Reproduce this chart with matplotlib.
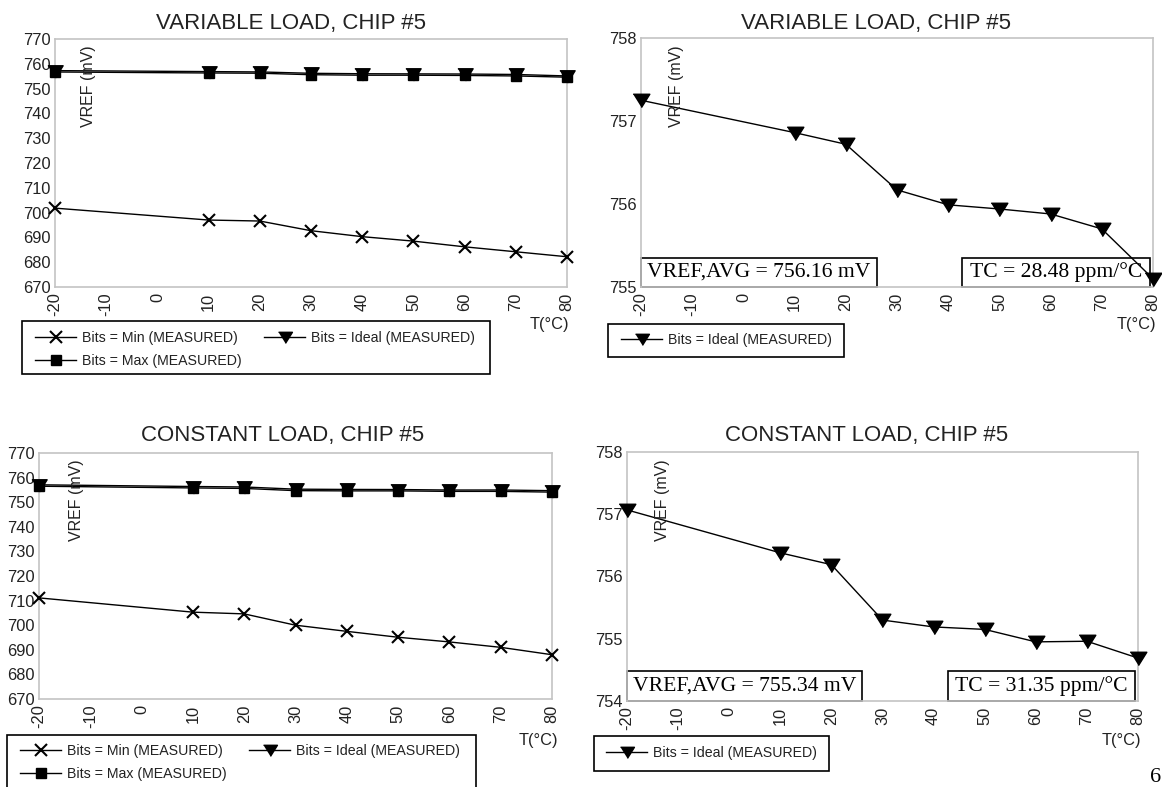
import matplotlib
matplotlib.use("Agg")
import matplotlib.pyplot as plt
from matplotlib.patches import Rectangle
from matplotlib.lines import Line2D

# Measurement temperatures and axis ticks
temps = [-20, 10, 20, 30, 40, 50, 60, 70, 80]
x_ticks = list(range(-20, 81, 10))

# VREF (mV) under variable load, chip #5
var_min = [701.8, 697.0, 696.6, 692.7, 690.3, 688.5, 686.2, 684.2, 682.2]
var_ideal = [757.25, 756.86, 756.72, 756.17, 755.99, 755.94, 755.88, 755.70, 755.10]
var_max = [756.7, 756.3, 756.2, 755.6, 755.4, 755.4, 755.3, 755.1, 754.6]

# VREF (mV) under constant load, chip #5
const_min = [711.1, 705.3, 704.6, 700.0, 697.5, 695.1, 693.2, 691.0, 688.0]
const_ideal = [757.07, 756.38, 756.19, 755.30, 755.19, 755.15, 754.95, 754.96, 754.69]
const_max = [756.5, 755.8, 755.6, 754.7, 754.6, 754.6, 754.4, 754.4, 754.1]

var_avg_text = "VREF,AVG = 756.16 mV"
var_tc_text = "TC = 28.48 ppm/°C"
const_avg_text = "VREF,AVG = 755.34 mV"
const_tc_text = "TC = 31.35 ppm/°C"

wide_ticks = [670, 680, 690, 700, 710, 720, 730, 740, 750, 760, 770]
var_zoom_ticks = [755, 756, 757, 758]
const_zoom_ticks = [754, 755, 756, 757, 758]

W, H, DPI = 1162, 787, 100
SANS = "Liberation Sans"
SERIF = "Liberation Serif"
TXT = "#222222"
SPINE = "#c4c4c4"
LEG_FS = 10.2

plt.rcParams["font.family"] = SANS

fig = plt.figure(figsize=(W / DPI, H / DPI), dpi=DPI)
fig.patch.set_facecolor("white")

TRI = [(-1.0, 0.75), (1.0, 0.75), (0.0, -0.85)]

lbl_min = "Bits = Min (MEASURED)"
lbl_ideal = "Bits = Ideal (MEASURED)"
lbl_max = "Bits = Max (MEASURED)"


def fx(px):
    return px / W


def fy(py):
    return 1 - py / H


def make_axes(l, t, r, b):
    ax = fig.add_axes([fx(l), fy(b), (r - l) / W, (b - t) / H])
    ax.set_xlim(-20, 80)
    ax.set_xticks(x_ticks)
    ax.set_xticklabels([str(v) for v in x_ticks], rotation=90)
    ax.tick_params(axis="both", length=0, labelsize=11.8, colors=TXT)
    ax.tick_params(axis="x", pad=4)
    ax.tick_params(axis="y", pad=3)
    for s in ax.spines.values():
        s.set_color(SPINE)
        s.set_linewidth(1.2)
    return ax


def deco(title, tx, ty, vx, vy, ux, uy):
    fig.text(fx(tx), fy(ty), title, ha="center", va="baseline",
             fontsize=16, color=TXT)
    fig.text(fx(vx), fy(vy), "VREF (mV)", ha="center", va="top",
             rotation=90, fontsize=11.5, color=TXT)
    fig.text(fx(ux), fy(uy), "T(°C)", ha="right", va="center",
             fontsize=11.8, color=TXT)


def add_box(ax, rect_px, box_px, text):
    l, t, r, b = rect_px
    bl, bt, br, bb = box_px
    x0 = (bl - l) / (r - l)
    x1 = (br - l) / (r - l)
    y0 = (b - bb) / (b - t)
    y1 = (b - bt) / (b - t)
    ax.add_patch(Rectangle((x0, y0), x1 - x0, y1 - y0, transform=ax.transAxes,
                           facecolor="white", edgecolor="black", linewidth=1.2,
                           zorder=2, clip_on=False))
    ax.text((x0 + x1) / 2, (y0 + y1) / 2, text, transform=ax.transAxes,
            ha="center", va="center", fontsize=15.6, family=SERIF,
            color="black", zorder=2.5)


def line(ax, y, marker, ms, mew=1.0):
    ax.plot(temps, y, color="black", linewidth=1.0, marker=marker,
            markersize=ms, markeredgewidth=mew, markerfacecolor="black",
            markeredgecolor="black", clip_on=False, zorder=3)


def frame(l, t, r, b):
    fig.patches.append(Rectangle((fx(l), fy(b)), (r - l) / W, (b - t) / H,
                                 transform=fig.transFigure, facecolor="white",
                                 edgecolor="black", linewidth=1.2, zorder=1))


def legend(handles, labels, hx, row_c, ncol=1):
    leg = fig.legend(handles, labels, loc="upper left",
                     bbox_to_anchor=(fx(hx), fy(row_c - 8.2)),
                     bbox_transform=fig.transFigure, borderaxespad=0,
                     borderpad=0, ncol=ncol, numpoints=1, fontsize=LEG_FS,
                     handlelength=2.9, handletextpad=0.45, columnspacing=1.55,
                     labelspacing=0.62, frameon=False)
    leg.set_zorder(5)
    for t_ in leg.get_texts():
        t_.set_color(TXT)


def legend3(box, hx, row_c):
    frame(*box)
    h_min = Line2D([], [], color="black", lw=1.0, marker="x", ms=8, mew=1.5)
    h_max = Line2D([], [], color="black", lw=1.0, marker="s", ms=7)
    h_ideal = Line2D([], [], color="black", lw=1.0, marker=TRI, ms=10)
    legend([h_min, h_max, h_ideal], [lbl_min, lbl_max, lbl_ideal], hx, row_c, 2)


def legend1(box, hx, row_c):
    frame(*box)
    h_ideal = Line2D([], [], color="black", lw=1.0, marker=TRI, ms=10)
    legend([h_ideal], [lbl_ideal], hx, row_c)


# ---- Variable load, all code settings ----
r_tl = (55, 39, 567, 287)
ax = make_axes(*r_tl)
ax.set_ylim(670, 770)
ax.set_yticks(wide_ticks)
line(ax, var_min, "x", 8, 1.5)
line(ax, var_max, "s", 7.5)
line(ax, var_ideal, TRI, 11)
deco("VARIABLE LOAD, CHIP #5", 291, 29, 89, 45, 569, 325)
legend3((22, 321, 490, 374), 35, 339)

# ---- Variable load, ideal code only ----
r_tr = (641, 38, 1153, 287)
ax = make_axes(*r_tr)
ax.set_ylim(755, 758)
ax.set_yticks(var_zoom_ticks)
line(ax, var_ideal, TRI, 12)
add_box(ax, r_tr, (641, 258, 877, 287), var_avg_text)
add_box(ax, r_tr, (962, 258, 1150, 287), var_tc_text)
deco("VARIABLE LOAD, CHIP #5", 876, 29, 677, 45, 1156, 325)
legend1((608, 324, 844, 357), 621, 341)

# ---- Constant load, all code settings ----
r_bl = (39, 453, 552, 699)
ax = make_axes(*r_bl)
ax.set_ylim(670, 770)
ax.set_yticks(wide_ticks)
line(ax, const_min, "x", 8, 1.5)
line(ax, const_max, "s", 7.5)
line(ax, const_ideal, TRI, 11)
deco("CONSTANT LOAD, CHIP #5", 283, 441, 76, 459, 558, 740)
legend3((7, 735, 476, 790), 20, 752)

# ---- Constant load, ideal code only ----
r_br = (627, 452, 1138, 701)
ax = make_axes(*r_br)
ax.set_ylim(754, 758)
ax.set_yticks(const_zoom_ticks)
line(ax, const_ideal, TRI, 12)
add_box(ax, r_br, (627, 671, 862, 701), const_avg_text)
add_box(ax, r_br, (948, 671, 1135, 701), const_tc_text)
deco("CONSTANT LOAD, CHIP #5", 867, 441, 662, 459, 1141, 740)
legend1((594, 736, 829, 771), 606, 754)

# page number at the corner
fig.text(fx(1150), fy(777), "6", ha="left", va="center", fontsize=16,
         family=SERIF, color="black")

fig.savefig("out.png", dpi=DPI, facecolor="white")
